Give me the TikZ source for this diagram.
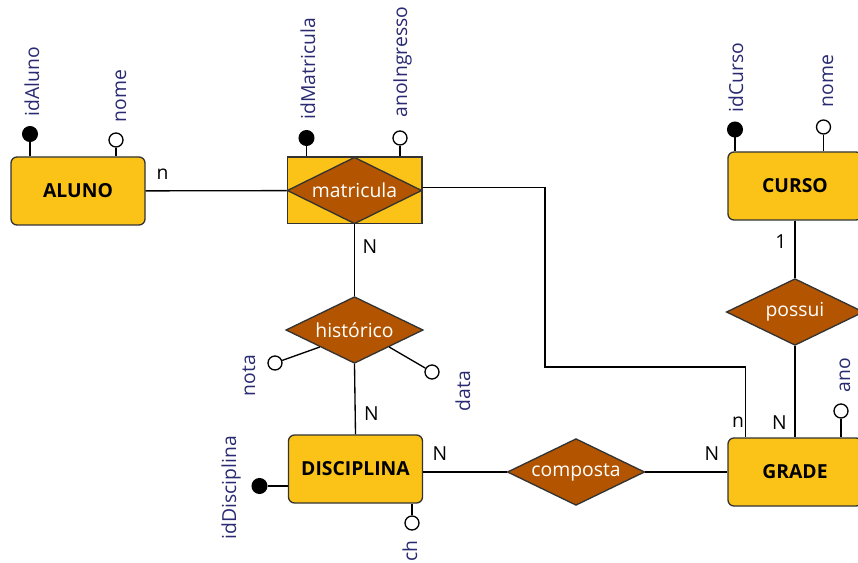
\documentclass[tikz,border=0pt]{standalone}
\usepackage{fontspec}
\setmainfont{Open Sans}
\usepackage{tikz}
\usetikzlibrary{shapes.geometric}

\definecolor{entyellow}{HTML}{FBC318}
\definecolor{relbrown}{HTML}{B35500}
\definecolor{attrblue}{HTML}{2A2A72}
\definecolor{edgegray}{HTML}{333333}

\begin{document}
\begin{tikzpicture}[x=0.75pt, y=-0.75pt, line width=1pt,
  every node/.style={font=\fontsize{14.5}{17}\selectfont},
  entity/.style={draw=edgegray, fill=entyellow, rounded corners=4.5pt,
    minimum width=100.5pt, minimum height=51pt,
    font=\fontsize{14.5}{17}\selectfont\bfseries},
  relation/.style={diamond, aspect=2, draw=edgegray, fill=relbrown, text=white,
    inner sep=0pt, minimum width=103pt, minimum height=50pt},
  keyattr/.style={circle, draw=black, fill=black, inner sep=0pt, minimum size=11pt},
  attr/.style={circle, draw=black, fill=white, inner sep=0pt, minimum size=10.5pt},
  attrlabel/.style={rotate=90, anchor=base west, inner sep=0pt, text=attrblue},
  card/.style={inner sep=0pt}]

  \useasboundingbox (0,0) rectangle (858,563);
  \clip (0,0) rectangle (858,563);

  % entidades e relacionamentos
  \node[entity] (aluno) at (78,191) {ALUNO};
  \node[draw=edgegray, fill=entyellow, minimum width=101pt, minimum height=50pt]
    (matricula) at (354.5,190.5) {};
  \node[relation, minimum width=101pt, minimum height=50pt] (matriculaRel) at (matricula) {matricula};
  \node[relation] (historico) at (354.5,330) {histórico};
  \node[entity] (disciplina) at (355.5,469) {DISCIPLINA};
  \node[relation] (composta) at (576,472) {composta};
  \node[entity] (grade) at (795,472) {GRADE};
  \node[entity] (curso) at (795,186) {CURSO};
  \node[relation] (possui) at (795,312) {possui};

  % ligacoes
  \coordinate (bend) at (545,367);
  \draw (aluno) -- (matricula);
  \draw ([yshift=2pt]matricula.east) -| (bend) -| ([xshift=13.5pt]grade.north west);
  \draw (matricula.south) -- (historico.north);
  \draw (historico.south) -- (disciplina.north);
  \draw (disciplina.east |- composta.west) -- (composta.west);
  \draw (composta.east) -- (grade.west);
  \draw (curso.south) -- (possui.north);
  \draw (possui.south) -- (grade.north);

  % cardinalidades
  \node[card] (cAluno) at (162.5,174) {n};
  \node[card] (cMatricula) at (370,247) {N};
  \node[card] (cHistorico) at (371.5,414) {N};
  \node[card] (cDisciplina) at (440,454) {N};
  \node[card] (cComposta) at (712,454) {N};
  \node[card] (cGradeM) at (738,422) {n};
  \node[card] (cGradeP) at (779.5,422.5) {N};
  \node[card] (cCurso) at (781,242) {1};

  % atributos
  \node[keyattr] (idAluno) at (30,134) {};
  \node[attr] (nomeAluno) at (116,140) {};
  \draw (idAluno) -- (idAluno |- aluno.north);
  \draw (nomeAluno) -- (nomeAluno |- aluno.north);
  \node[attrlabel] (idAlunoLbl) at (39,117) {idAluno};
  \node[attrlabel] (nomeAlunoLbl) at (126,123) {nome};

  \node[keyattr] (idMatricula) at (306.5,138) {};
  \node[attr] (anoIngresso) at (400,138) {};
  \draw (idMatricula) -- (idMatricula |- matricula.north);
  \draw (anoIngresso) -- (anoIngresso |- matricula.north);
  \node[attrlabel] (idMatriculaLbl) at (315,120) {idMatricula};
  \node[attrlabel] (anoIngressoLbl) at (407,118) {anoIngresso};

  \node[keyattr] (idCurso) at (735,129.5) {};
  \node[attr] (nomeCurso) at (823.5,127) {};
  \draw (idCurso) -- (idCurso |- curso.north);
  \draw (nomeCurso) -- (nomeCurso |- curso.north);
  \node[attrlabel] (idCursoLbl) at (743,113) {idCurso};
  \node[attrlabel] (nomeCursoLbl) at (833,108) {nome};

  \node[attr] (nota) at (275,363) {};
  \node[attr] (data) at (432,372) {};
  \draw (nota) -- (historico.south west);
  \draw (data) -- (historico.south east);
  \node[attrlabel] (notaLbl) at (255,397) {nota};
  \node[attrlabel] (dataLbl) at (470,412) {data};

  \node[keyattr] (idDisciplina) at (259.5,486) {};
  \node[attr] (ch) at (412,523) {};
  \draw (idDisciplina) -- (idDisciplina -| disciplina.west);
  \draw (ch) -- (ch |- disciplina.south);
  \node[attrlabel] (idDisciplinaLbl) at (236,540) {idDisciplina};
  \node[attrlabel] (chLbl) at (417,562) {ch};

  \node[attr] (ano) at (841,411) {};
  \draw (ano) -- (ano |- grade.north);
  \node[attrlabel] (anoLbl) at (850,393) {ano};

\end{tikzpicture}
\end{document}
